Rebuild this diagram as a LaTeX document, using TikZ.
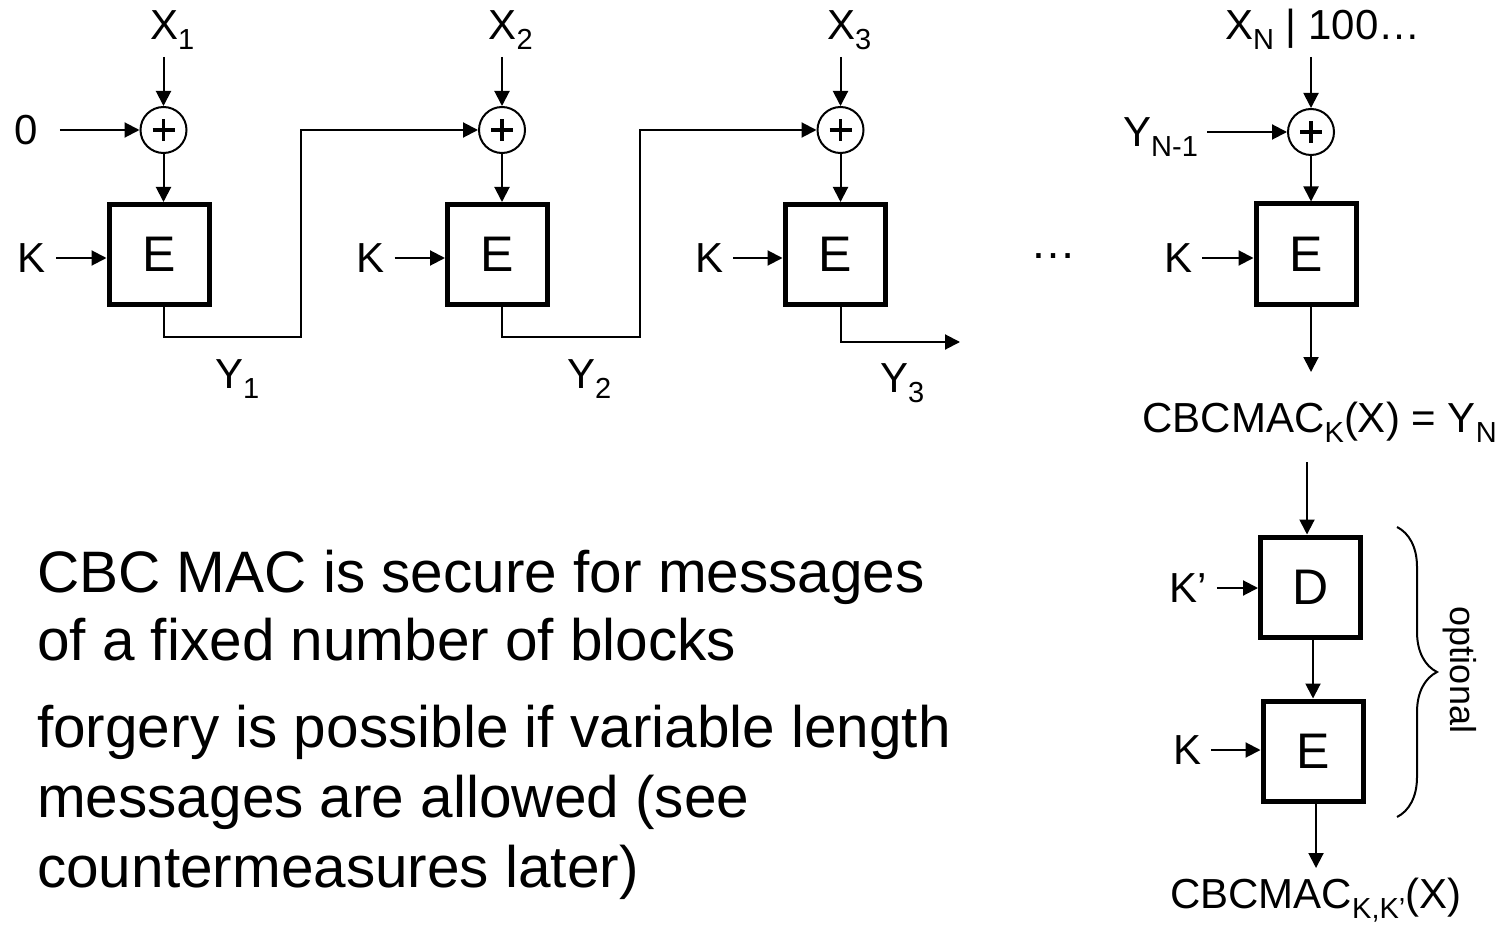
\documentclass[tikz,border=0pt]{standalone}
\usepackage{fontspec}
\setmainfont{Liberation Sans}
\usetikzlibrary{arrows.meta,decorations.pathreplacing}
\newcommand\sbs[1]{\raisebox{-10pt}{\fontsize{29}{30}\selectfont #1}}
\begin{document}
\begin{tikzpicture}[x=1pt,y=-1pt,
  lab/.style={inner sep=0pt,font=\fontsize{42}{50}\selectfont},
  blk/.style={draw,line width=5pt,minimum size=100pt,inner sep=0pt,font=\fontsize{50}{60}\selectfont},
  xor/.style={circle,draw,line width=2pt,minimum size=46pt,inner sep=0pt,
    path picture={\draw[line width=3.5pt] ([xshift=-11pt]path picture bounding box.center) -- ([xshift=11pt]path picture bounding box.center);
                  \draw[line width=3.5pt] ([yshift=-11pt]path picture bounding box.center) -- ([yshift=11pt]path picture bounding box.center);}},
  arr/.style={line width=2pt,-{Triangle[length=15pt,width=15pt]}},
  body/.style={inner sep=0pt,anchor=base west,font=\fontsize{58.5}{70}\selectfont}]
\useasboundingbox (0,0) rectangle (1503,925);
% column 1
\node[lab,anchor=base west] (x1) at (150,40) {X\sbs{1}};
\node[xor] (xor1) at (163.5,130) {};
\node[blk] (box1) at (159,254.5) {E};
\node[lab] (zero) at (26,130) {0};
\node[lab] (k1) at (32,258) {K};
\coordinate (x1s) at (163.5,57);
\draw[arr] (x1s) -- (xor1);
\draw[arr] ([xshift=22pt]zero.east) -- (xor1.west);
\draw[arr] (xor1) -- (xor1 |- box1.north);
\draw[arr] ([xshift=10pt]k1.east) -- (box1.west |- k1.east);
% column 2
\node[lab,anchor=base west] (x2) at (488.5,40) {X\sbs{2}};
\node[xor] (xor2) at (502,130) {};
\node[blk] (box2) at (497.5,254.5) {E};
\node[lab] (k2) at (370.5,258) {K};
\coordinate (x2s) at (502,57);
\draw[arr] (x2s) -- (xor2);
\draw[arr] (xor2) -- (xor2 |- box2.north);
\draw[arr] ([xshift=10pt]k2.east) -- (box2.west |- k2.east);
% column 3
\node[lab,anchor=base west] (x3) at (827,40) {X\sbs{3}};
\node[xor] (xor3) at (840.5,130) {};
\node[blk] (box3) at (835,254.5) {E};
\node[lab] (k3) at (709,258) {K};
\coordinate (x3s) at (840.5,57);
\draw[arr] (x3s) -- (xor3);
\draw[arr] (xor3) -- (xor3 |- box3.north);
\draw[arr] ([xshift=10pt]k3.east) -- (box3.west |- k3.east);
% chaining
\coordinate (c1) at (301,337);
\coordinate (c2) at (640,337);
\coordinate (c3) at (960,342);
\draw[arr] (box1.south -| xor1) |- (c1) |- (xor2.west);
\draw[arr] (box2.south -| xor2) |- (c2) |- (xor3.west);
\draw[arr] (box3.south -| xor3) |- (c3);
\node[lab,anchor=base west] (y1) at (215,388) {Y\sbs{1}};
\node[lab,anchor=base west] (y2) at (567,388) {Y\sbs{2}};
\node[lab,anchor=base west] (y3) at (880,392) {Y\sbs{3}};
\node[inner sep=0pt,font=\fontsize{46}{50}\selectfont] (dots) at (1053,256) {…};
% last column
\node[lab,anchor=base west] (xn) at (1225,40) {X\sbs{N} | 100…};
\node[xor] (xor4) at (1311,132) {};
\node[blk] (box4) at (1306,254) {E};
\node[lab,anchor=base west] (yn1) at (1123,147) {Y\sbs{N-1}};
\node[lab] (k4) at (1178,258) {K};
\coordinate (xns) at (1311,57);
\coordinate (yns) at (1207,132);
\draw[arr] (xns) -- (xor4);
\draw[arr] (yns) -- (xor4.west);
\draw[arr] (xor4) -- (xor4 |- box4.north);
\draw[arr] ([xshift=10pt]k4.east) -- (box4.west |- k4.east);
\coordinate (o1) at (1311,372);
\draw[arr] (box4.south -| xor4) -- (o1);
\node[lab,anchor=base east] (mac1) at (1497,432) {CBCMAC\sbs{K}(X) = Y\sbs{N}};
% optional part
\node[blk] (dbox) at (1310.5,587) {D};
\node[blk] (ebox) at (1313,751) {E};
\node[lab] (kp) at (1188,588) {K’};
\node[lab] (k5) at (1187,750) {K};
\coordinate (ds) at (1307,462);
\draw[arr] (ds) -- (ds |- dbox.north);
\draw[arr] (dbox.south -| ebox) -- (ebox.north);
\draw[arr] ([xshift=10pt]kp.east) -- (dbox.west |- kp.east);
\draw[arr] ([xshift=10pt]k5.east) -- (ebox.west |- k5.east);
\coordinate (o2) at (1316,868);
\draw[arr] (ebox.south -| o2) -- (o2);
\node[lab,anchor=base west] (mac2) at (1170,908) {CBCMAC\sbs{K,K’}(X)};
\draw[line width=2pt,decorate,decoration={brace,amplitude=40pt}] (1397,527) -- (1397,817);
\node[inner sep=0pt,rotate=-90,font=\fontsize{36}{40}\selectfont] (opt) at (1460,670) {optional};
% body text
\node[body] (t1) at (37,592) {CBC MAC is secure for messages};
\node[body] (t2) at (37,660) {of a fixed number of blocks};
\node[body] (t3) at (37,747) {forgery is possible if variable length};
\node[body] (t4) at (37,817) {messages are allowed (see};
\node[body] (t5) at (37,887) {countermeasures later)};
\end{tikzpicture}
\end{document}
